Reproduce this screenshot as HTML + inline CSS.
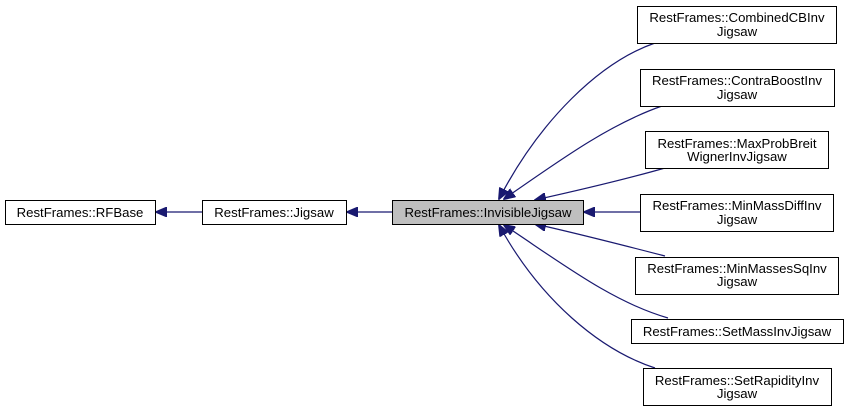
<!DOCTYPE html>
<html><head><meta charset="utf-8"><style>
html,body{margin:0;padding:0;background:#fff;}
svg{display:block;font-family:"Liberation Sans",Arial,sans-serif;font-size:13.2px;}
</style></head><body>
<svg width="848" height="412" viewBox="0 0 848 412" xmlns="http://www.w3.org/2000/svg">
<defs>
<marker id="a" markerWidth="12" markerHeight="10" refX="11" refY="5" orient="auto" markerUnits="userSpaceOnUse">
<polygon points="0,0 12,5 0,10" fill="#191970" stroke="#191970"/>
</marker>
</defs>
<g fill="none" stroke="#191970" stroke-width="1.2">
<path d="M202,212 L156,212" marker-end="url(#a)"/>
<path d="M392,212 L347,212" marker-end="url(#a)"/>
<path d="M655,43 C600,62 540,120 499,199" marker-end="url(#a)"/>
<path d="M662,106 C610,124 560,160 504,199" marker-end="url(#a)"/>
<path d="M665,168 C630,178 580,190 535,200" marker-end="url(#a)"/>
<path d="M640,212 L584,212" marker-end="url(#a)"/>
<path d="M665,256 C630,247 580,234 535,224" marker-end="url(#a)"/>
<path d="M668,318 C612,302 560,262 504,225" marker-end="url(#a)"/>
<path d="M655,368 C600,350 540,300 499,225" marker-end="url(#a)"/>
</g>
<g stroke="#000" stroke-width="1" fill="#fff">
<rect x="5.5" y="200.5" width="150" height="24"/>
<rect x="202.5" y="200.5" width="144" height="24"/>
<rect x="392.5" y="200.5" width="191" height="24" fill="#bfbfbf"/>
<rect x="637.5" y="6.5" width="199" height="37"/>
<rect x="640.5" y="69.5" width="194" height="37"/>
<rect x="645.5" y="131.5" width="183" height="37"/>
<rect x="640.5" y="194.5" width="193" height="37"/>
<rect x="635.5" y="257.5" width="203" height="37"/>
<rect x="631.5" y="319.5" width="212" height="24"/>
<rect x="643.5" y="368.5" width="188" height="37"/>
</g>
<g fill="#000" text-anchor="middle">
<text x="80" y="217">RestFrames::RFBase</text>
<text x="274" y="217">RestFrames::Jigsaw</text>
<text x="488" y="217">RestFrames::InvisibleJigsaw</text>
<text x="737" y="22">RestFrames::CombinedCBInv</text><text x="737" y="36">Jigsaw</text>
<text x="737" y="85">RestFrames::ContraBoostInv</text><text x="737" y="99">Jigsaw</text>
<text x="737" y="148">RestFrames::MaxProbBreit</text><text x="737" y="161">WignerInvJigsaw</text>
<text x="737" y="210">RestFrames::MinMassDiffInv</text><text x="737" y="224">Jigsaw</text>
<text x="737" y="273">RestFrames::MinMassesSqInv</text><text x="737" y="286">Jigsaw</text>
<text x="737" y="336">RestFrames::SetMassInvJigsaw</text>
<text x="737" y="385">RestFrames::SetRapidityInv</text><text x="737" y="398">Jigsaw</text>
</g>
</svg>
</body></html>
